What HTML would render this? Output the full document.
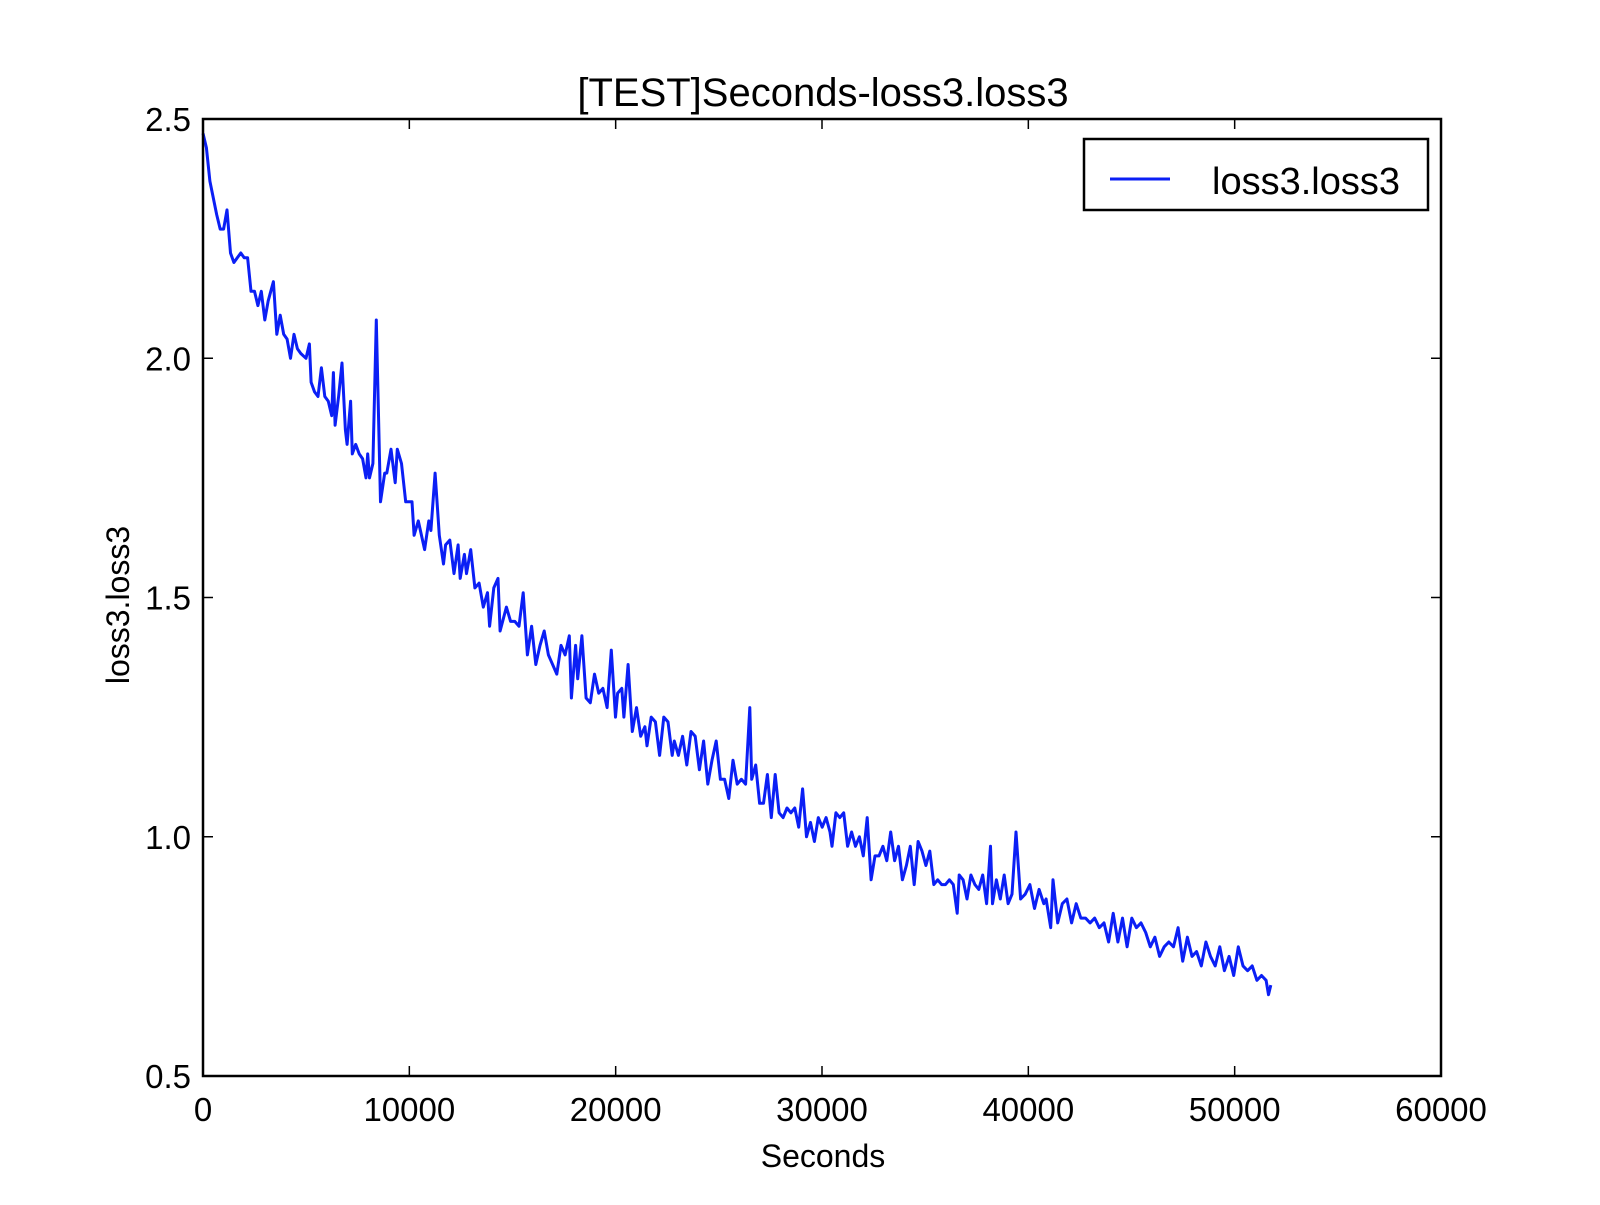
<!DOCTYPE html>
<html><head><meta charset="utf-8"><style>
body{margin:0;background:#fff}
svg text{font-family:"Liberation Sans",Arial,sans-serif;fill:#000}
</style></head><body>
<svg id="chart" width="1600" height="1200" viewBox="0 0 1600 1200" xmlns="http://www.w3.org/2000/svg">
<rect width="1600" height="1200" fill="#fff"/>
<text x="823" y="106" font-size="40" text-anchor="middle">[TEST]Seconds-loss3.loss3</text>
<g id="axes"></g>
<path id="series" fill="none" stroke="#0b1ff5" stroke-width="3" stroke-linejoin="round"/>
<rect x="203" y="119" width="1238" height="957" fill="none" stroke="#000" stroke-width="2.5"/>
<g>
<rect x="1084" y="139" width="344" height="71" fill="#fff" stroke="#000" stroke-width="2.5"/>
<line x1="1110" y1="179" x2="1170" y2="179" stroke="#0b1ff5" stroke-width="3"/>
<text x="1212" y="194" font-size="38">loss3.loss3</text>
</g>
<text x="823" y="1167" font-size="32" text-anchor="middle">Seconds</text>
<text transform="translate(129,605) rotate(-90)" font-size="32" text-anchor="middle">loss3.loss3</text>
</svg>
<script>
const xTicks=[0,10000,20000,30000,40000,50000,60000];
const yTicks=[0.5,1.0,1.5,2.0,2.5];
const yTickLabels=["0.5","1.0","1.5","2.0","2.5"];
const secondsRaw=[0,200,400,800,1000,1200,1400,1600,1800,2000,2200,2400,2600,2800,3000,3200,3400,3600,3800,4100,4300,4500,4700,4900,5100,5300,5500,5700,6000,6200,6300,6500,6700,6900,7100,7300,7500,7600,7700,7900,8100,8300,8400,8600,8700,8900,9100,9300,9500,9600,9700,9900,10100,10300,10500,10600,10800,11000,11100,11300,11500,11800,11900,12100,12200,12400,12600,12700,12900,13100,13300,13400,13600,13800,14000,14100,14300,14400,14600,14800,15000,15200,15400,15500,15700,15900,16000,16300,16500,16700,16900,17100,17300,17500,17700,17900,18100,18300,18400,18700,18900,19100,19300,19400,19600,19700,19900,20100,20300,20500,20700,20900,21100,21300,21500,21600,21800,21900,22100,22300,22500,22700,22900,23000,23200,23400,23600,23800,24000,24200,24300,24500,24700,24900,25100,25300,25500,25700,25900,26100,26300,26500,26700,26900,27100,27300,27500,27700,27900,28000,28200,28400,28600,28800,29000,29200,29400,29600,29800,30000,30200,30400,30600,30800,31000,31200,31400,31600,31800,32000,32100,32300,32500,32700,32900,33100,33300,33500,33700,33900,34100,34300,34500,34700,34900,35100,35300,35500,35700,35900,36100,36300,36500,36700,36900,37100,37300,37500,37700,37900,38100,38300,38500,38600,38800,39000,39200,39400,39600,39800,40000,40200,40300,40500,40700,40900,41100,41300,41500,41700,41900,42100,42300,42500,42700,42800,43000,43100,43300,43500,43700,43900,44100,44300,44500,44700,44900,45100,45300,45500,45700,45900,46100,46300,46500,46700,46900,47100,47300,47500,47700,47900,48100,48300,48500,48700,48900,49100,49300,49500,49700,49900,50100,50300,50500,50700,50900,51100,51300,51500,51700,51900,52100,52300,52400,52500];
const calibRaw=[0,10100,27900,41500,52500];
const calibTrue=[0,8400,26500,39400,51750];
const loss=[2.47,2.44,2.37,2.30,2.27,2.27,2.31,2.22,2.20,2.21,2.22,2.21,2.21,2.14,2.14,2.11,2.14,2.08,2.12,2.16,2.05,2.09,2.05,2.04,2.00,2.05,2.02,2.01,2.00,2.03,1.95,1.93,1.92,1.98,1.92,1.91,1.88,1.97,1.86,1.92,1.99,1.85,1.82,1.91,1.80,1.82,1.80,1.79,1.75,1.80,1.75,1.78,2.08,1.70,1.76,1.76,1.81,1.74,1.81,1.78,1.70,1.70,1.63,1.66,1.64,1.60,1.66,1.64,1.76,1.63,1.57,1.61,1.62,1.55,1.61,1.54,1.59,1.55,1.60,1.52,1.53,1.48,1.51,1.44,1.52,1.54,1.43,1.48,1.45,1.45,1.44,1.51,1.38,1.44,1.36,1.40,1.43,1.38,1.37,1.34,1.40,1.38,1.42,1.29,1.40,1.33,1.42,1.29,1.28,1.34,1.30,1.31,1.27,1.39,1.25,1.30,1.31,1.25,1.36,1.22,1.27,1.21,1.23,1.19,1.25,1.24,1.17,1.25,1.24,1.17,1.20,1.17,1.21,1.15,1.22,1.21,1.14,1.20,1.11,1.16,1.20,1.12,1.12,1.08,1.16,1.11,1.12,1.11,1.27,1.12,1.15,1.07,1.07,1.13,1.04,1.13,1.05,1.04,1.06,1.05,1.06,1.02,1.10,1.00,1.03,0.99,1.04,1.02,1.04,1.01,0.98,1.05,1.04,1.05,0.98,1.01,0.98,1.00,0.96,1.04,0.91,0.96,0.96,0.98,0.95,1.01,0.95,0.98,0.91,0.94,0.98,0.90,0.99,0.97,0.94,0.97,0.90,0.91,0.90,0.90,0.91,0.90,0.84,0.92,0.91,0.87,0.92,0.90,0.89,0.92,0.86,0.98,0.86,0.91,0.87,0.92,0.86,0.88,1.01,0.87,0.88,0.90,0.85,0.89,0.86,0.87,0.81,0.91,0.82,0.86,0.87,0.82,0.86,0.83,0.83,0.82,0.83,0.81,0.82,0.78,0.84,0.78,0.83,0.77,0.83,0.81,0.82,0.80,0.77,0.79,0.75,0.77,0.78,0.77,0.81,0.74,0.79,0.75,0.76,0.73,0.78,0.75,0.73,0.77,0.72,0.75,0.71,0.77,0.73,0.72,0.73,0.70,0.71,0.70,0.67,0.69];
function calibrate(v){for(let i=1;i<calibRaw.length;i++){if(v<=calibRaw[i]){const t=(v-calibRaw[i-1])/(calibRaw[i]-calibRaw[i-1]);return calibTrue[i-1]+t*(calibTrue[i]-calibTrue[i-1]);}}return v;}
const seconds=secondsRaw.map(calibrate);
const X0=203,X1=1441,Y0=1076,Y1=119;
const sx=v=>X0+(v-0)/(60000-0)*(X1-X0);
const sy=v=>Y0-(v-0.5)/(2.5-0.5)*(Y0-Y1);
const NS="http://www.w3.org/2000/svg";
const axes=document.getElementById('axes');
function mk(tag,attrs){const e=document.createElementNS(NS,tag);for(const k in attrs)e.setAttribute(k,attrs[k]);axes.appendChild(e);return e;}
xTicks.forEach(t=>{
  const x=sx(t);
  const a=mk('line',{x1:x,x2:x,y1:Y0,y2:Y0-10,stroke:'#000','stroke-width':1.5});
  
  
  const b=mk('line',{x1:x,x2:x,y1:Y1,y2:Y1+10,stroke:'#000','stroke-width':1.5});
  
  
  const l=mk('text',{x:x,y:1121,'font-size':33,'text-anchor':'middle'});
  l.textContent=String(t);
  
  
});
yTicks.forEach((t,i)=>{
  const y=sy(t);
  const a=mk('line',{x1:X0,x2:X0+10,y1:y,y2:y,stroke:'#000','stroke-width':1.5});
  
  
  const b=mk('line',{x1:X1,x2:X1-10,y1:y,y2:y,stroke:'#000','stroke-width':1.5});
  
  
  const l=mk('text',{x:X0-12,y:y+12,'font-size':33,'text-anchor':'end'});
  l.textContent=yTickLabels[i];
  
  
});
document.getElementById('series').setAttribute('d',seconds.map((s,i)=>(i?'L':'M')+sx(s).toFixed(1)+' '+sy(loss[i]).toFixed(1)).join(' '));
</script>
</body></html>
